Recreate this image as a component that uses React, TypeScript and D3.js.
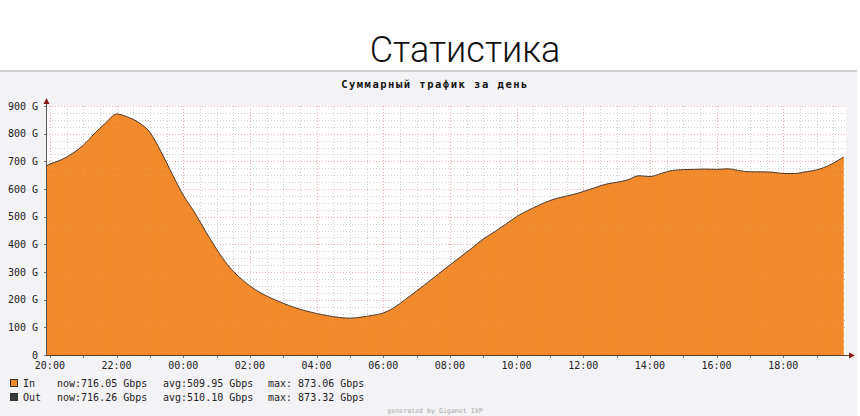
import React from "react";
import * as d3 from "d3";

const pageTitle = "Статистика";
const chartTitle = "Суммарный трафик за день";
const footerText = "generated by Giganet IXP";

const yTickValues = [0, 100, 200, 300, 400, 500, 600, 700, 800, 900];
const yTickLabels = ["0", "100 G", "200 G", "300 G", "400 G", "500 G", "600 G", "700 G", "800 G", "900 G"];
const xTickLabels = ["20:00", "22:00", "00:00", "02:00", "04:00", "06:00", "08:00", "10:00", "12:00", "14:00", "16:00", "18:00"];

const pointTimes = [
  "19:53",
  "20:00", "20:20", "20:40", "21:00", "21:20", "21:40", "22:00", "22:20", "22:40", "23:00", "23:20", "23:40",
  "00:00", "00:20", "00:40", "01:00", "01:20", "01:40", "02:00", "02:20", "02:40", "03:00", "03:20", "03:40",
  "04:00", "04:20", "04:40", "05:00", "05:20", "05:40", "06:00", "06:20", "06:40", "07:00", "07:20", "07:40",
  "08:00", "08:20", "08:40", "09:00", "09:20", "09:40", "10:00", "10:20", "10:40", "11:00", "11:20", "11:40",
  "12:00", "12:20", "12:40", "13:00", "13:20", "13:40", "14:00", "14:20", "14:40", "15:00", "15:20", "15:40",
  "16:00", "16:20", "16:40", "17:00", "17:20", "17:40", "18:00", "18:20", "18:40", "19:00", "19:20", "19:40",
  "19:49",
];

const inValues = [
  683,
  690, 705, 728, 758, 800, 838, 871, 860, 840, 805, 735, 655,
  578, 517, 448, 383, 326, 283, 250, 224, 204, 187, 172, 160,
  150, 142, 136, 133, 137, 143, 152, 172, 201, 231, 262, 294,
  325, 356, 387, 419, 445, 472, 500, 522, 541, 558, 570, 579,
  591, 604, 617, 624, 633, 648, 645, 656, 667, 670, 671, 672,
  671, 673, 667, 662, 662, 661, 656, 656, 662, 669, 683, 705,
  716,
];

const outValues = [
  683,
  690, 705, 728, 758, 800, 838, 871, 860, 840, 805, 735, 655,
  578, 517, 448, 383, 326, 283, 250, 224, 204, 187, 172, 160,
  150, 142, 136, 133, 137, 143, 152, 172, 201, 231, 262, 294,
  325, 356, 387, 419, 445, 472, 500, 522, 541, 558, 570, 579,
  591, 604, 617, 624, 633, 648, 645, 656, 667, 670, 671, 672,
  671, 673, 667, 662, 662, 661, 656, 656, 662, 669, 683, 705,
  716,
];

const legendRows = [
  { name: "In", now: "now:716.05 Gbps", avg: "avg:509.95 Gbps", max: "max: 873.06 Gbps" },
  { name: "Out", now: "now:716.26 Gbps", avg: "avg:510.10 Gbps", max: "max: 873.32 Gbps" },
];

const START_MIN = 19 * 60 + 53;
function toOffset(t: string): number {
  const [h, m] = t.split(":").map(Number);
  return (h * 60 + m - START_MIN + 1440) % 1440;
}

const W = 860;
const H = 416;
const plotLeft = 46;
const plotRight = 846;
const plotTop = 106;
const plotBottom = 355;

const ORANGE = "#f28a2c";
const MONO = "'DejaVu Sans Mono', monospace";

export default function App() {
  const x = d3.scaleLinear().domain([0, 1440]).range([plotLeft, plotRight]);
  const y = d3.scaleLinear().domain([0, 900]).range([plotBottom, plotTop]);

  const inData = pointTimes.map((t, i) => ({ t: toOffset(t), v: inValues[i] }));
  const outData = pointTimes.map((t, i) => ({ t: toOffset(t), v: outValues[i] }));

  const areaGen = d3
    .area<{ t: number; v: number }>()
    .curve(d3.curveMonotoneX)
    .x((d) => x(d.t))
    .y0(plotBottom)
    .y1((d) => y(d.v));
  const lineGen = d3
    .line<{ t: number; v: number }>()
    .curve(d3.curveMonotoneX)
    .x((d) => x(d.t))
    .y((d) => y(d.v));

  const areaD = areaGen(inData) || "";
  const lineD = lineGen(outData) || "";

  const firstLabelOff = toOffset(xTickLabels[0]);
  const minorV = d3.range(firstLabelOff, 1440, 30);
  const majorV = xTickLabels.map(toOffset);
  const hourTicks = d3.range(firstLabelOff, 1440, 60);
  const minorH = d3.range(0, 901, 25).filter((v) => v % 100 !== 0);

  const gridLines = (opacity: number) => (
    <g opacity={opacity}>
      {minorH.map((v) => (
        <line key={"mh" + v} x1={plotLeft} x2={plotRight} y1={Math.round(y(v)) + 0.5} y2={Math.round(y(v)) + 0.5}
          stroke="#c8c8c8" strokeWidth={1} strokeDasharray="1,2" />
      ))}
      {minorV.map((t) => (
        <line key={"mv" + t} x1={Math.round(x(t)) + 0.5} x2={Math.round(x(t)) + 0.5} y1={plotTop} y2={plotBottom}
          stroke="#c8c8c8" strokeWidth={1} strokeDasharray="1,2" />
      ))}
      {yTickValues.map((v) => (
        <line key={"Mh" + v} x1={plotLeft} x2={plotRight} y1={Math.round(y(v)) + 0.5} y2={Math.round(y(v)) + 0.5}
          stroke="#e9a0a0" strokeWidth={1} strokeDasharray="1,2" />
      ))}
      {majorV.map((t) => (
        <line key={"Mv" + t} x1={Math.round(x(t)) + 0.5} x2={Math.round(x(t)) + 0.5} y1={plotTop} y2={plotBottom}
          stroke="#e9a0a0" strokeWidth={1} strokeDasharray="1,2" />
      ))}
    </g>
  );

  return (
    <svg width={W} height={H} style={{ position: "absolute", left: 0, top: 0, display: "block" }}>
      <rect x={0} y={0} width={W} height={H} fill="#ffffff" />
      <text x={465} y={62} textAnchor="middle" fontFamily="Roboto, 'Noto Sans', sans-serif" fontWeight={300}
        fontSize={36} fill="#111">
        {pageTitle}
      </text>
      <rect x={0} y={72} width={857} height={H - 72} fill="#f3f2f5" />
      <line x1={0} x2={857} y1={71} y2={71} stroke="#cfcfcf" strokeWidth={2} />

      <text x={435} y={88} textAnchor="middle" fontFamily={MONO} fontSize={10.5} fontWeight="bold" letterSpacing={1.5} fill="#111">
        {chartTitle}
      </text>

      <rect x={plotLeft} y={plotTop} width={plotRight - plotLeft} height={plotBottom - plotTop} fill="#ffffff" />
      {gridLines(0.85)}

      <defs>
        <clipPath id="areaClip">
          <path d={areaD} />
        </clipPath>
      </defs>
      <path d={areaD} fill={ORANGE} />
      <g clipPath="url(#areaClip)">{gridLines(0.12)}</g>
      <path d={lineD} fill="none" stroke="#4a3a30" strokeWidth={1} />

      <line x1={plotLeft + 0.5} x2={plotLeft + 0.5} y1={plotBottom} y2={103} stroke="#555" strokeWidth={1} />
      <path d={`M${plotLeft - 2.5},${104} L${plotLeft + 0.5},${98} L${plotLeft + 3.5},${104} Z`} fill="#8b1a1a" />
      <line x1={plotLeft} x2={850} y1={plotBottom + 0.5} y2={plotBottom + 0.5} stroke="#5a4030" strokeWidth={1} />
      <path d={`M${849},${plotBottom - 2.5} L${855},${plotBottom + 0.5} L${849},${plotBottom + 3.5} Z`} fill="#8b1a1a" />
      {hourTicks.map((t) => (
        <line key={"ht" + t} x1={Math.round(x(t)) + 0.5} x2={Math.round(x(t)) + 0.5} y1={plotBottom + 1} y2={plotBottom + 3}
          stroke="#777" strokeWidth={1} />
      ))}
      {yTickValues.map((v) => (
        <line key={"yt" + v} x1={plotLeft - 2} x2={plotLeft} y1={Math.round(y(v)) + 0.5} y2={Math.round(y(v)) + 0.5}
          stroke="#777" strokeWidth={1} />
      ))}

      {yTickValues.map((v, i) => (
        <text key={"yl" + v} x={38} y={y(v) + 3.5} textAnchor="end" fontFamily={MONO} fontSize={10} fill="#222">
          {yTickLabels[i]}
        </text>
      ))}
      {xTickLabels.map((l) => (
        <text key={"xl" + l} x={x(toOffset(l))} y={369} textAnchor="middle" fontFamily={MONO} fontSize={10} fill="#222">
          {l}
        </text>
      ))}

      {legendRows.map((r, i) => {
        const by = 387 + i * 14;
        return (
          <g key={r.name}>
            <rect x={10.5} y={by - 7.5} width={7} height={7} fill={i === 0 ? ORANGE : "#3c3c3c"} stroke="#333" strokeWidth={1} />
            <text x={23} y={by} fontFamily={MONO} fontSize={10} fill="#222">{r.name}</text>
            <text x={57} y={by} fontFamily={MONO} fontSize={10} fill="#222">{r.now}</text>
            <text x={163} y={by} fontFamily={MONO} fontSize={10} fill="#222">{r.avg}</text>
            <text x={268} y={by} fontFamily={MONO} fontSize={10} fill="#222">{r.max}</text>
          </g>
        );
      })}

      <text x={435} y={413} textAnchor="middle" fontFamily={MONO} fontSize={6.6} fill="#aaa">
        {footerText}
      </text>
    </svg>
  );
}
